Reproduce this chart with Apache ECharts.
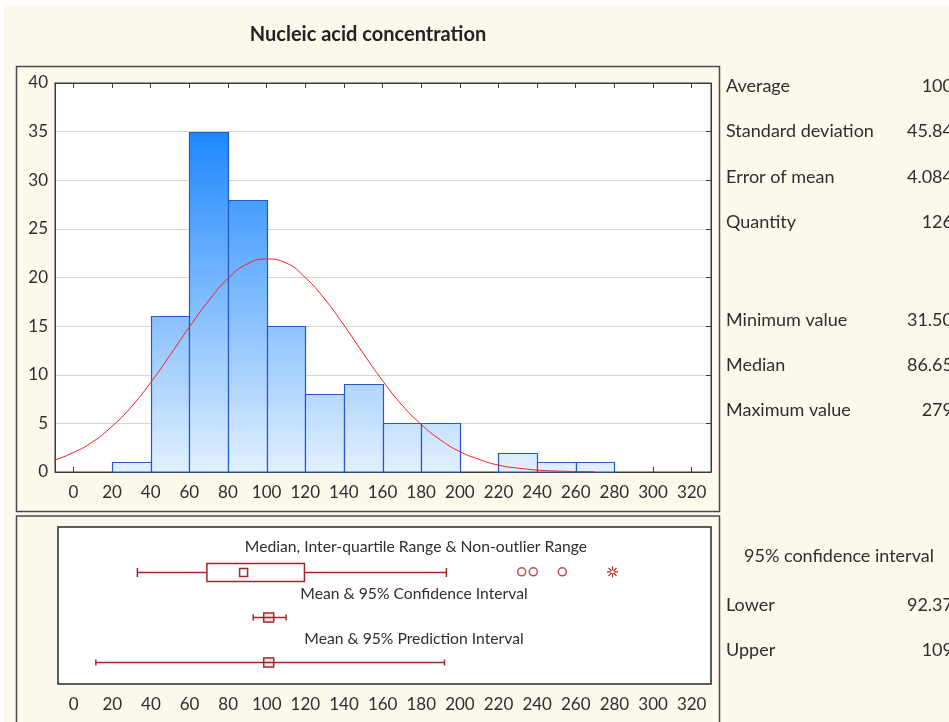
<!DOCTYPE html>
<html><head><meta charset="utf-8">
<script src="https://cdn.jsdelivr.net/npm/echarts@6/dist/echarts.min.js"></script>
<style>html,body{margin:0;padding:0;background:#fff}#c{width:949px;height:722px}</style>
</head><body><div id="c"></div>
<script>
// ---- data ----
const binStarts = [20, 40, 60, 80, 100, 120, 140, 160, 180, 200, 220, 240, 260];
const binWidth = 20;
const binCounts = [1, 16, 35, 28, 15, 8, 9, 5, 5, 0, 2, 1, 1];
const curveX = [-10, 0, 10, 20, 30, 40, 50, 60, 70, 80, 90, 100, 110, 120, 130, 140, 150, 160, 170, 180, 190, 200, 210, 220, 230, 240, 250, 260, 270];
const curveY = [1.2, 2.0, 3.1, 4.7, 6.7, 9.2, 12.0, 14.9, 17.6, 19.9, 21.4, 21.9, 21.5, 20.0, 17.8, 15.1, 12.2, 9.4, 6.9, 4.9, 3.3, 2.1, 1.3, 0.7, 0.4, 0.2, 0.1, 0.05, 0.02];
const xTicks = [0, 20, 40, 60, 80, 100, 120, 140, 160, 180, 200, 220, 240, 260, 280, 300, 320];
const boxPlot = [33, 69, 88, 119.5, 193];      // whisker low, Q1, median, Q3, whisker high
const outliers = [232, 238, 253];
const extremes = [279];
const confInterval = [93, 101, 110];           // lower, mean, upper
const predInterval = [11.5, 101, 192];         // lower, mean, upper
const statLabels = ['Average', 'Standard deviation', 'Error of mean', 'Quantity', 'Minimum value', 'Median', 'Maximum value'];
const statValues = ['100', '45.84', '4.084', '126', '31.50', '86.65', '279'];
const ciLabels = ['Lower', 'Upper'];
const ciValues = ['92.37', '109'];

// ---- styles ----
const FONT = 'Lato';
const TXT = '#2e2e2e';
const RED = '#a3262a';
const statY = [86, 131, 177, 222, 320, 365, 410];
const ciY = [605, 650];

const chart = echarts.init(document.getElementById('c'), null, {renderer: 'canvas'});

function crisp(v) { return Math.round(v) + 0.5; }

const graphic = [
  {type: 'rect', shape: {x: 0, y: 0, width: 949, height: 5}, style: {fill: '#fff'}, z: -10},
  {type: 'rect', shape: {x: 0, y: 0, width: 4, height: 722}, style: {fill: '#fff'}, z: -10},
  {type: 'rect', shape: {x: 16.5, y: 66.5, width: 703, height: 445}, style: {fill: 'none', stroke: '#4a4a4a', lineWidth: 1.5}},
  {type: 'rect', shape: {x: 16.5, y: 516, width: 703, height: 230}, style: {fill: 'none', stroke: '#4a4a4a', lineWidth: 1.5}},
  {type: 'text', style: {text: 'Nucleic acid concentration', x: 368, y: 35, textAlign: 'center', textVerticalAlign: 'middle', font: 'bold 20px ' + FONT, fill: '#222'}},
  {type: 'text', style: {text: 'Median, Inter-quartile Range & Non-outlier Range', x: 416, y: 547, textAlign: 'center', textVerticalAlign: 'middle', font: '15.7px ' + FONT, fill: TXT}},
  {type: 'text', style: {text: 'Mean & 95% Confidence Interval', x: 414, y: 594, textAlign: 'center', textVerticalAlign: 'middle', font: '15.7px ' + FONT, fill: TXT}},
  {type: 'text', style: {text: 'Mean & 95% Prediction Interval', x: 414, y: 639, textAlign: 'center', textVerticalAlign: 'middle', font: '15.7px ' + FONT, fill: TXT}},
  {type: 'text', style: {text: '95% confidence interval', x: 839, y: 556, textAlign: 'center', textVerticalAlign: 'middle', font: '18px ' + FONT, fill: TXT}}
];
statLabels.forEach((t, i) => {
  graphic.push({type: 'text', style: {text: t, x: 726, y: statY[i], textAlign: 'left', textVerticalAlign: 'middle', font: '18px ' + FONT, fill: TXT}});
  graphic.push({type: 'text', style: {text: statValues[i], x: 953, y: statY[i], textAlign: 'right', textVerticalAlign: 'middle', font: '18px ' + FONT, fill: TXT}});
});
ciLabels.forEach((t, i) => {
  graphic.push({type: 'text', style: {text: t, x: 726, y: ciY[i], textAlign: 'left', textVerticalAlign: 'middle', font: '18px ' + FONT, fill: TXT}});
  graphic.push({type: 'text', style: {text: ciValues[i], x: 953, y: ciY[i], textAlign: 'right', textVerticalAlign: 'middle', font: '18px ' + FONT, fill: TXT}});
});

const labelStyle = {fontFamily: FONT, fontSize: 17, color: TXT};

const option = {
  backgroundColor: '#fdf8ec',
  animation: false,
  graphic: graphic,
  grid: [
    {left: 55, right: 238, top: 83, bottom: 250, show: true, backgroundColor: '#fff', borderColor: '#3a3a3a', borderWidth: 1},
    {left: 58, right: 238, top: 527, bottom: 38, show: true, backgroundColor: '#fff', borderColor: '#2a2a2a', borderWidth: 1.5}
  ],
  xAxis: [
    {type: 'value', gridIndex: 0, min: -9.5, max: 330, position: 'bottom',
     axisLine: {show: true, onZero: false, lineStyle: {color: '#3a3a3a'}},
     axisTick: {show: true, inside: true, length: 5, customValues: xTicks, lineStyle: {color: '#3a3a3a'}},
     axisLabel: Object.assign({show: true, margin: 12, customValues: xTicks}, labelStyle),
     splitLine: {show: false}},
    {type: 'value', gridIndex: 1, min: -8.1, max: 330, position: 'bottom',
     axisLine: {show: false, onZero: false}, axisTick: {show: false},
     axisLabel: Object.assign({show: true, margin: 12, customValues: xTicks}, labelStyle),
     splitLine: {show: false}},
    {type: 'value', gridIndex: 0, min: -9.5, max: 330, position: 'top',
     axisLine: {show: true, onZero: false, lineStyle: {color: '#3a3a3a'}},
     axisTick: {show: true, inside: true, length: 5, customValues: xTicks, lineStyle: {color: '#3a3a3a'}},
     axisLabel: {show: false}, splitLine: {show: false}}
  ],
  yAxis: [
    {type: 'value', gridIndex: 0, min: 0, max: 40, interval: 5, position: 'left',
     axisLine: {show: true, onZero: false, lineStyle: {color: '#3a3a3a'}},
     axisTick: {show: false},
     axisLabel: Object.assign({margin: 7}, labelStyle),
     splitLine: {show: true, lineStyle: {color: '#d6d6d6', width: 1}}},
    {type: 'value', gridIndex: 1, min: 0.5, max: 4, show: false, axisLine: {onZero: false}, splitLine: {show: false}},
    {type: 'value', gridIndex: 0, min: 0, max: 40, interval: 5, position: 'right',
     axisLine: {show: true, onZero: false, lineStyle: {color: '#3a3a3a'}},
     axisTick: {show: true, inside: true, length: 5, lineStyle: {color: '#3a3a3a'}},
     axisLabel: {show: false}, splitLine: {show: false}}
  ],
  series: [
    {
      type: 'custom', xAxisIndex: 0, yAxisIndex: 0, z: 2,
      data: binStarts.map((s, i) => [s, s + binWidth, binCounts[i]]),
      renderItem: function (params, api) {
        const h = api.value(2);
        if (!h) return null;
        const p0 = api.coord([api.value(0), 0]);
        const p1 = api.coord([api.value(1), h]);
        const yTop = api.coord([0, 35])[1];
        const yBot = api.coord([0, 0])[1];
        const grad = new echarts.graphic.LinearGradient(0, yTop, 0, yBot, [
          {offset: 0, color: '#1e88ff'},
          {offset: 1, color: '#e2f0fe'}
        ], true);
        const x0 = crisp(p0[0]), x1 = crisp(p1[0]), y1 = crisp(p1[1]), y0 = Math.round(p0[1]);
        return {type: 'rect', shape: {x: x0, y: y1, width: x1 - x0, height: y0 - y1},
                style: {fill: grad, stroke: '#2459c9', lineWidth: 1.2}};
      }
    },
    {
      type: 'line', xAxisIndex: 0, yAxisIndex: 0, z: 3,
      data: curveX.map((x, i) => [x, curveY[i]]),
      smooth: true, showSymbol: false, symbol: 'none',
      lineStyle: {color: '#ff1a1a', width: 1}
    },
    {
      type: 'custom', xAxisIndex: 1, yAxisIndex: 1, z: 3,
      data: [[boxPlot[0], boxPlot[1], boxPlot[2], boxPlot[3], boxPlot[4], 3]],
      renderItem: function (params, api) {
        const row = api.value(5);
        const y = Math.round(api.coord([0, row])[1]) + 0.5;
        const px = v => api.coord([v, row])[0];
        const wl = px(api.value(0)), q1 = px(api.value(1)), md = px(api.value(2)), q3 = px(api.value(3)), wh = px(api.value(4));
        const st = {stroke: RED, lineWidth: 1.5, fill: 'none'};
        return {type: 'group', children: [
          {type: 'line', shape: {x1: wl, y1: y, x2: q1, y2: y}, style: st},
          {type: 'line', shape: {x1: q3, y1: y, x2: wh, y2: y}, style: st},
          {type: 'line', shape: {x1: wl, y1: y - 4.5, x2: wl, y2: y + 4.5}, style: st},
          {type: 'line', shape: {x1: wh, y1: y - 4.5, x2: wh, y2: y + 4.5}, style: st},
          {type: 'rect', shape: {x: q1, y: y - 9, width: q3 - q1, height: 18}, style: {stroke: RED, lineWidth: 1.5, fill: '#fff'}},
          {type: 'rect', shape: {x: md - 4, y: y - 4, width: 8, height: 8}, style: {stroke: RED, lineWidth: 1.5, fill: '#fff'}}
        ]};
      }
    },
    {
      type: 'custom', xAxisIndex: 1, yAxisIndex: 1, z: 3,
      data: [[confInterval[0], confInterval[1], confInterval[2], 2], [predInterval[0], predInterval[1], predInterval[2], 1]],
      renderItem: function (params, api) {
        const row = api.value(3);
        const y = Math.round(api.coord([0, row])[1]) + 0.5;
        const px = v => api.coord([v, row])[0];
        const lo = px(api.value(0)), mn = px(api.value(1)), hi = px(api.value(2));
        const st = {stroke: RED, lineWidth: 1.5, fill: 'none'};
        return {type: 'group', children: [
          {type: 'line', shape: {x1: lo, y1: y, x2: hi, y2: y}, style: st},
          {type: 'line', shape: {x1: lo, y1: y - 3, x2: lo, y2: y + 3}, style: st},
          {type: 'line', shape: {x1: hi, y1: y - 3, x2: hi, y2: y + 3}, style: st},
          {type: 'rect', shape: {x: mn - 5, y: y - 4.5, width: 10, height: 9}, style: {stroke: RED, lineWidth: 1.5, fill: 'rgba(163,38,42,0.12)'}}
        ]};
      }
    },
    {
      type: 'scatter', xAxisIndex: 1, yAxisIndex: 1, z: 4,
      data: outliers.map(v => [v, 3]),
      symbol: 'circle', symbolSize: 8,
      itemStyle: {color: '#fff', borderColor: RED, borderWidth: 1.5}
    },
    {
      type: 'custom', xAxisIndex: 1, yAxisIndex: 1, z: 4,
      data: extremes.map(v => [v, 3]),
      renderItem: function (params, api) {
        const p = api.coord([api.value(0), api.value(1)]);
        const x = p[0], y = p[1], r = 5.5, d = 4;
        const st = {stroke: RED, lineWidth: 1.2, fill: 'none'};
        return {type: 'group', children: [
          {type: 'line', shape: {x1: x, y1: y - r, x2: x, y2: y - 1.5}, style: st},
          {type: 'line', shape: {x1: x, y1: y + 1.5, x2: x, y2: y + r}, style: st},
          {type: 'line', shape: {x1: x - r, y1: y, x2: x - 1.5, y2: y}, style: st},
          {type: 'line', shape: {x1: x + 1.5, y1: y, x2: x + r, y2: y}, style: st},
          {type: 'line', shape: {x1: x - d, y1: y - d, x2: x - 1, y2: y - 1}, style: st},
          {type: 'line', shape: {x1: x + 1, y1: y + 1, x2: x + d, y2: y + d}, style: st},
          {type: 'line', shape: {x1: x + d, y1: y - d, x2: x + 1, y2: y - 1}, style: st},
          {type: 'line', shape: {x1: x - 1, y1: y + 1, x2: x - d, y2: y + d}, style: st}
        ]};
      }
    }
  ]
};
chart.setOption(option);
</script>
</body></html>
